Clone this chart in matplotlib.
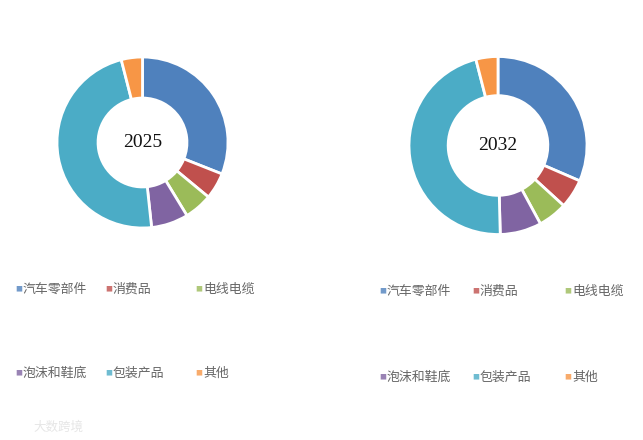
import matplotlib.pyplot as plt

plt.rcParams['font.family'] = ['Noto Sans CJK SC', 'DejaVu Sans']

# データ
categories = ["汽车零部件", "消费品", "电线电缆", "泡沫和鞋底", "包装产品", "其他"]
share_2025 = [31.0, 5.0, 5.3, 7.0, 47.7, 4.0]
share_2032 = [31.5, 5.3, 5.3, 7.5, 46.4, 4.0]
years = ["2025", "2032"]
colors = ["#4F81BD", "#C0504D", "#9BBB59", "#8064A2", "#4BACC6", "#F79646"]

W, H = 643, 440
fig = plt.figure(figsize=(W / 100, H / 100), dpi=100)


def px_axes(cx, cy, r):
    # pixel coords (top-left origin) -> figure fraction
    return fig.add_axes([(cx - r) / W, (H - cy - r) / H, 2 * r / W, 2 * r / H])


# ドーナツ (center x, center y, radius, hole ratio)
donuts = [(share_2025, years[0], 142.5, 142.5, 85.5, 0.52),
          (share_2032, years[1], 498, 145.5, 89, 0.56)]

for values, year, cx, cy, r, hole in donuts:
    ax = px_axes(cx, cy, r)
    ax.pie(values, colors=colors, startangle=90, counterclock=False, radius=1,
           wedgeprops=dict(width=1 - hole, edgecolor="white", linewidth=2))
    ax.set_xlim(-1, 1)
    ax.set_ylim(-1, 1)
    ax.set_aspect("equal")
    ax.axis("off")
    ax.text(0, 0, year, ha="center", va="center", fontsize=14,
            family="Liberation Serif", color="#111111")

# 凡例 (手動配置)
legend_sets = [((19, 109, 199), (289, 373)),
               ((383, 476, 568), (291, 377))]
for xs, ys in legend_sets:
    for i, (name, c) in enumerate(zip(categories, colors)):
        x = xs[i % 3]
        y = ys[i // 3]
        fig.text(x / W, 1 - y / H, "■", color=c, fontsize=5, ha="center",
                 va="center", alpha=0.8)
        fig.text((x + 4) / W, 1 - y / H, name, color="#666666", fontsize=9.3,
                 ha="left", va="center")

# 透かし
fig.text(33 / W, 1 - 427 / H, "大数跨境", color="#e6e6e6", fontsize=9,
         ha="left", va="center")

fig.savefig("out.png", dpi=100)
